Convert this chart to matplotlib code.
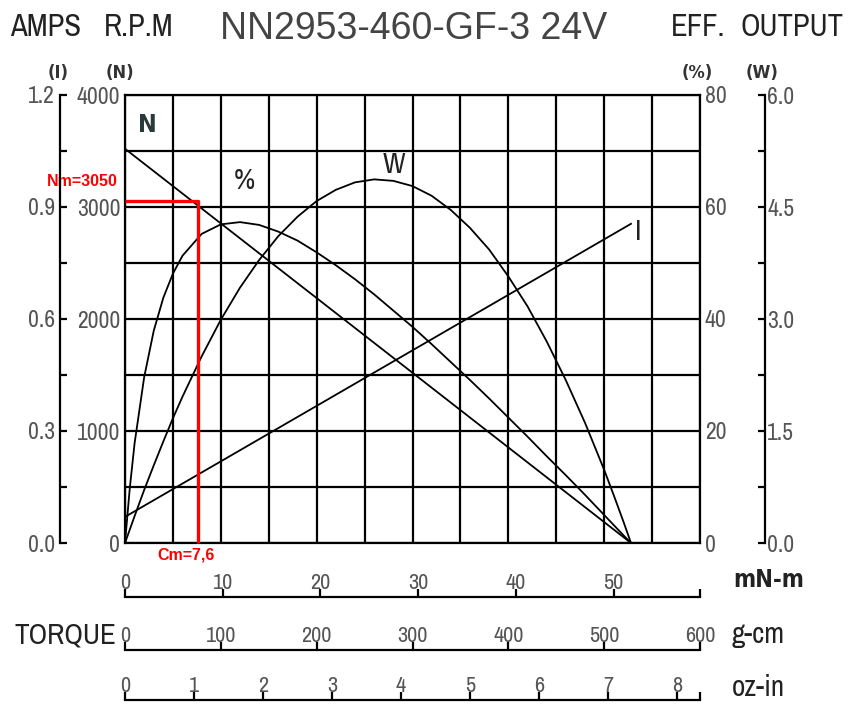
#!/usr/bin/env python3

'''
Motor performance curve for NN2953-460-GF-3 24V
'''

import matplotlib
matplotlib.use('Agg')
import matplotlib.pyplot as plt
from matplotlib import font_manager
from matplotlib.ticker import MultipleLocator, FixedLocator, NullFormatter

# speed (N) and current (I) are straight lines, torque in mN-m
torque_lin = [0, 52.8]
speed_rpm = [3520, 0]
current_a = [0.07, 0.855]

# efficiency (%) and output (W) read along the torque axis
torque_pts = [0, 0.5, 1, 2, 3, 4, 5, 6, 8, 10, 12, 14, 16, 18, 20, 22, 24,
              26, 28, 30, 32, 34, 36, 38, 40, 42, 44, 46, 48, 50, 51, 52, 52.8]
eff_pct = [0, 9.8, 17.8, 29.6, 37.9, 43.8, 48.1, 51.3, 55.2, 56.9, 57.3,
           56.8, 55.6, 54.0, 51.9, 49.6, 47.1, 44.4, 41.5, 38.6, 35.5, 32.3,
           29.1, 25.8, 22.4, 19.0, 15.5, 12.1, 8.6, 5.0, 3.2, 1.4, 0]
output_w = [0, 0.18, 0.36, 0.71, 1.04, 1.36, 1.67, 1.96, 2.50, 2.99, 3.42,
            3.79, 4.11, 4.37, 4.58, 4.73, 4.83, 4.87, 4.85, 4.78, 4.65, 4.46,
            4.22, 3.93, 3.57, 3.17, 2.70, 2.18, 1.61, 0.98, 0.64, 0.29, 0]

# marked working point
cm_torque = 7.6
nm_speed = 3050

# bottom torque scales
mnm_ticks = [0, 10, 20, 30, 40, 50]
gcm_ticks = [0, 100, 200, 300, 400, 500, 600]
ozin_ticks = [0, 1, 2, 3, 4, 5, 6, 7, 8]
mnm_max = 58.84   # = 600 g-cm
ozin_max = 8.333


def pick_font(candidates):
    names = {f.name for f in font_manager.fontManager.ttflist}
    for c in candidates:
        if c in names:
            return c
    return 'DejaVu Sans'


NARROW = pick_font(['Archivo Narrow', 'Liberation Sans Narrow', 'DejaVu Sans'])
REGULAR = pick_font(['Liberation Sans', 'Arimo', 'DejaVu Sans'])

GRAY = '#555555'
DARK = '#222222'
W_PX, H_PX = 849, 706
L, R, B, T = 125, 700, 543, 95


def fx(px):
    return px / W_PX


def fy(py):
    return 1 - py / H_PX


def nfont(**kw):
    d = dict(fontfamily=NARROW, fontstretch='condensed')
    d.update(kw)
    return d


def bfont(**kw):
    # bold condensed text
    d = dict(fontfamily='DejaVu Sans', fontstretch='condensed', fontweight='bold')
    d.update(kw)
    return d


def style_labels(labels, size=17):
    for lab in labels:
        lab.set_fontfamily(NARROW)
        lab.set_fontstretch('condensed')
        lab.set_fontsize(size)
        lab.set_color(GRAY)


def torque_scale(fig, ypx, xmax, ticks, labels):
    a = fig.add_axes([fx(L), fy(ypx), fx(R - L), 0.0001])
    a.set_xlim(0, xmax)
    a.set_ylim(0, 1)
    for s in ['left', 'right', 'top']:
        a.spines[s].set_visible(False)
    a.spines['bottom'].set_linewidth(1.6)
    a.set_yticks([])
    a.xaxis.set_major_locator(FixedLocator(ticks))
    a.set_xticklabels(labels)
    a.tick_params(axis='x', direction='in', length=6, width=1.6,
                  bottom=True, top=False, labelbottom=False, labeltop=True, pad=3)
    style_labels([t.label2 for t in a.xaxis.get_major_ticks()], 16)
    a.patch.set_visible(False)
    return a


def main():
    fig = plt.figure(figsize=(W_PX / 100, H_PX / 100), dpi=100)
    ax = fig.add_axes([fx(L), fy(B), fx(R - L), fy(T) - fy(B)])

    # grid axes in mN-m / rpm
    ax.set_xlim(0, 60)
    ax.set_ylim(0, 4000)
    ax.xaxis.set_major_locator(MultipleLocator(5))
    ax.yaxis.set_major_locator(MultipleLocator(1000))
    ax.yaxis.set_minor_locator(MultipleLocator(500))
    ax.grid(True, which='both', color='black', linewidth=1.6)
    ax.tick_params(axis='x', length=0, labelbottom=False)
    ax.tick_params(axis='y', which='both', length=0, pad=3.5)
    style_labels(ax.get_yticklabels())
    for s in ax.spines.values():
        s.set_linewidth(1.6)

    ax.plot(torque_lin, speed_rpm, color='black', lw=1.3)

    # current, left outer scale
    ax_i = ax.twinx()
    ax_i.set_ylim(0, 1.2)
    ax_i.yaxis.set_ticks_position('left')
    ax_i.spines['left'].set_position(('outward', 46.8))
    ax_i.spines['left'].set_visible(True)
    ax_i.spines['left'].set_linewidth(1.6)
    for s in ['right', 'top', 'bottom']:
        ax_i.spines[s].set_visible(False)
    ax_i.yaxis.set_major_locator(FixedLocator([0, 0.3, 0.6, 0.9, 1.2]))
    ax_i.yaxis.set_minor_locator(FixedLocator([0.15, 0.45, 0.75, 1.05]))
    ax_i.set_yticklabels(['0.0', '0.3', '0.6', '0.9', '1.2'])
    style_labels(ax_i.get_yticklabels())
    ax_i.yaxis.set_minor_formatter(NullFormatter())
    ax_i.tick_params(axis='y', which='both', direction='in', length=5,
                     width=1.6, pad=3.5)
    ax_i.plot(torque_lin, current_a, color='black', lw=1.3)

    # efficiency, right inner labels
    ax_e = ax.twinx()
    ax_e.set_ylim(0, 80)
    ax_e.yaxis.set_major_locator(MultipleLocator(20))
    for s in ax_e.spines.values():
        s.set_visible(False)
    ax_e.tick_params(axis='y', length=0, pad=3.5)
    style_labels(ax_e.get_yticklabels())
    ax_e.plot(torque_pts, eff_pct, color='black', lw=1.3)

    # output power, right outer scale
    ax_w = ax.twinx()
    ax_w.set_ylim(0, 6)
    ax_w.spines['right'].set_position(('outward', 47))
    ax_w.spines['right'].set_linewidth(1.6)
    for s in ['left', 'top', 'bottom']:
        ax_w.spines[s].set_visible(False)
    ax_w.yaxis.set_major_locator(FixedLocator([0, 1.5, 3.0, 4.5, 6.0]))
    ax_w.yaxis.set_minor_locator(FixedLocator([0.75, 2.25, 3.75, 5.25]))
    ax_w.set_yticklabels(['0.0', '1.5', '3.0', '4.5', '6.0'])
    style_labels(ax_w.get_yticklabels())
    ax_w.yaxis.set_minor_formatter(NullFormatter())
    ax_w.tick_params(axis='y', which='both', direction='in', length=5,
                     width=1.6, pad=1.5)
    ax_w.plot(torque_pts, output_w, color='black', lw=1.3)

    # curve names
    ax.text(2.3, 3730, 'N', ha='center', va='center',
            **bfont(fontsize=18, color='#2a3a3a'))
    for txt, xv, yv in [('%', 12.5, 3240), ('W', 28.1, 3380), ('I', 53.6, 2780)]:
        ax.text(xv, yv, txt, ha='center', va='center',
                **nfont(fontsize=21, color=DARK))

    # working point in red
    ax_w.plot([0, cm_torque, cm_torque], [nm_speed * 6 / 4000] * 2 + [0],
              color='red', lw=2.4, solid_capstyle='butt', clip_on=False)
    ax.text(-4.5, 3230, f'Nm={nm_speed}', color='red', fontweight='bold',
            fontfamily=REGULAR, fontsize=11.5, ha='center', va='center',
            clip_on=False)
    ax.text(6.4, -110, 'Cm=' + str(cm_torque).replace('.', ','), color='red',
            fontweight='bold', fontfamily=REGULAR, fontsize=11.5,
            ha='center', va='center', clip_on=False)

    # torque scales under the chart
    torque_scale(fig, 597, mnm_max, mnm_ticks + [mnm_max],
                 [str(t) for t in mnm_ticks] + [''])
    torque_scale(fig, 650, 600, gcm_ticks, [str(t) for t in gcm_ticks])
    torque_scale(fig, 700, ozin_max, ozin_ticks + [ozin_max],
                 [str(t) for t in ozin_ticks] + [''])

    fig.text(fx(733), fy(580), 'mN-m', va='center',
             **bfont(fontsize=17, color=DARK))
    fig.text(fx(732), fy(635), 'g-cm', va='center',
             **nfont(fontsize=21, color=DARK))
    fig.text(fx(732), fy(688), 'oz-in', va='center',
             **nfont(fontsize=21, color=DARK))
    fig.text(fx(65), fy(635), 'TORQUE', va='center', ha='center',
             **nfont(fontsize=21, color=DARK))

    # header
    fig.text(fx(10), fy(27), 'AMPS', va='center',
             **nfont(fontsize=22, color=DARK))
    fig.text(fx(104), fy(27), 'R.P.M', va='center',
             **nfont(fontsize=22, color=DARK))
    fig.text(fx(220), fy(29), 'NN2953-460-GF-3 24V', fontfamily=REGULAR,
             fontsize=27, color='#444444', va='center')
    fig.text(fx(671), fy(27), 'EFF.', va='center',
             **nfont(fontsize=22, color=DARK))
    fig.text(fx(741), fy(27), 'OUTPUT', va='center',
             **nfont(fontsize=22, color=DARK))
    for txt, xp in [('(I)', 58), ('(N)', 120), ('(%)', 697), ('(W)', 762)]:
        fig.text(fx(xp), fy(73), txt, va='center', ha='center',
                 **bfont(fontsize=13, color='#333333'))

    fig.savefig('out.png', dpi=100, facecolor='white')


if __name__ == '__main__':
    main()
